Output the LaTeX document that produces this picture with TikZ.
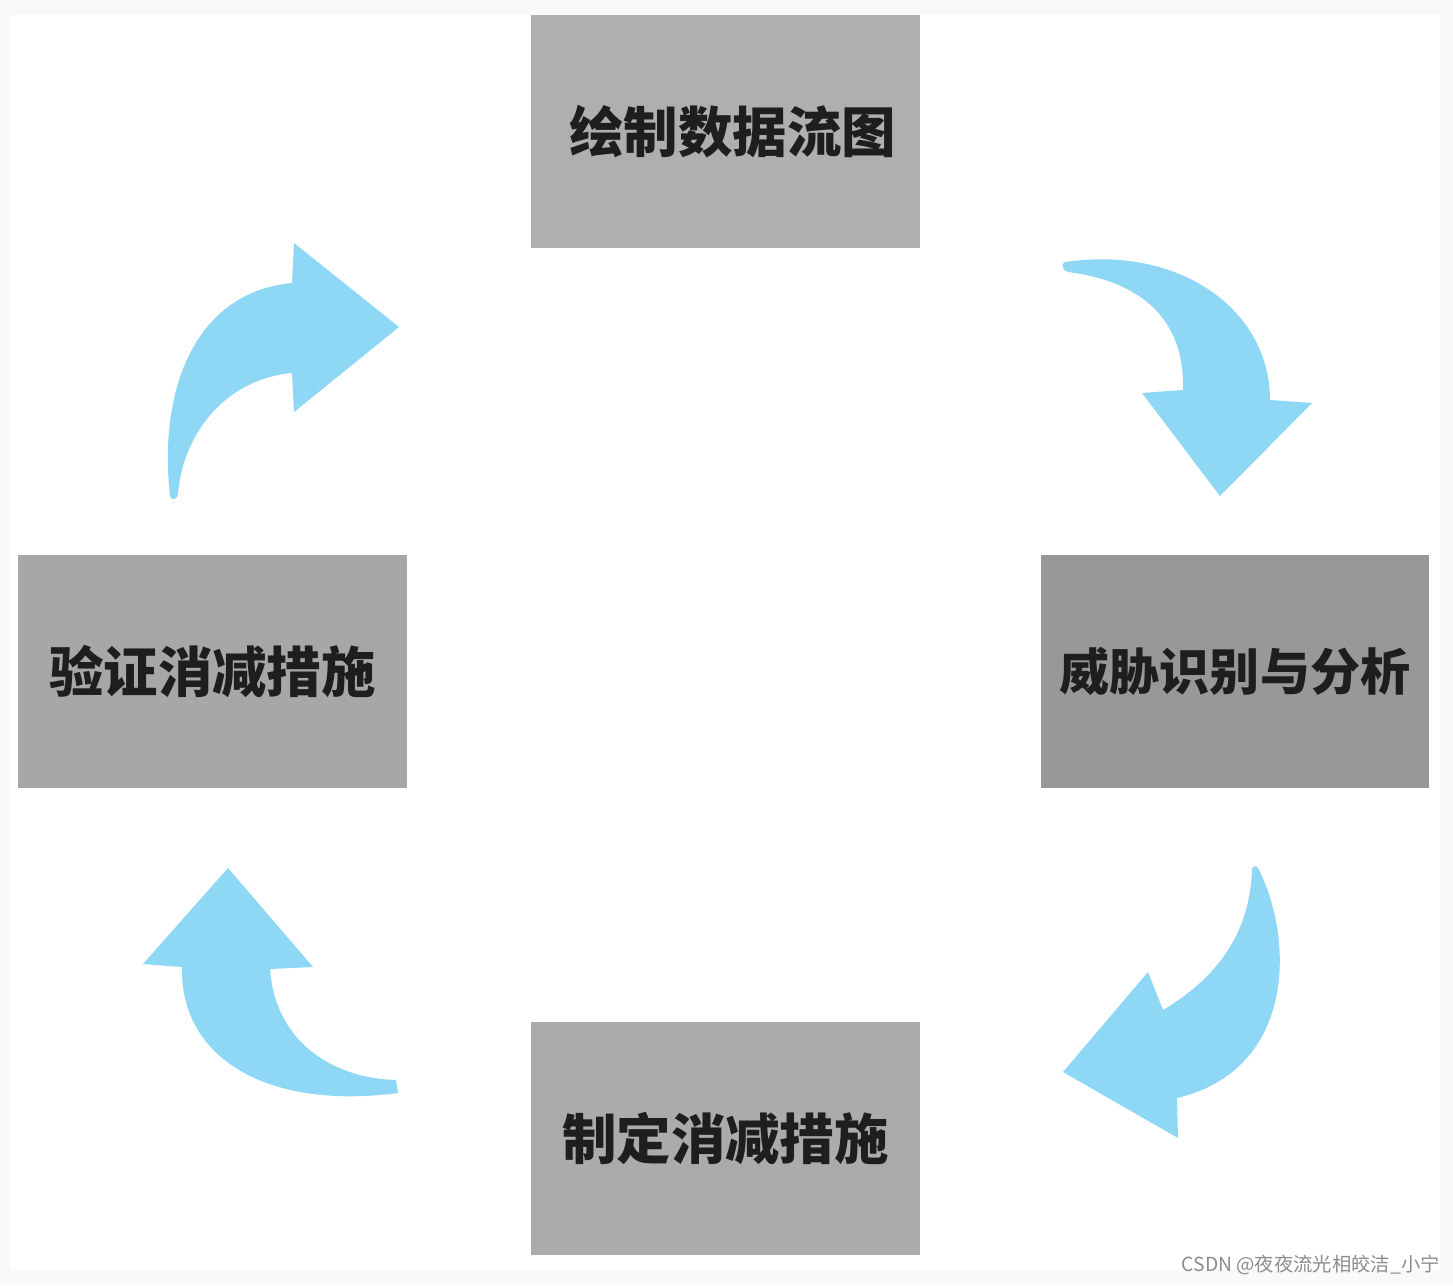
\documentclass[tikz,border=0pt]{standalone}
\usepackage{fontspec}
\newfontfamily\cjk{Noto Sans CJK SC}
\definecolor{arrowblue}{RGB}{142,216,245}
\definecolor{outerbg}{RGB}{248,249,251}
\definecolor{boxtop}{RGB}{176,175,175}
\definecolor{boxright}{RGB}{153,152,152}
\definecolor{boxleft}{RGB}{168,167,167}
\definecolor{boxbottom}{RGB}{172,171,171}
\definecolor{txt}{RGB}{30,30,30}
\definecolor{wm}{RGB}{140,140,140}
\tikzset{
  stagebox/.style={rectangle, minimum width=7.78cm, minimum height=4.66cm, inner sep=0pt,
    font=\cjk\bfseries\fontsize{31}{36}\selectfont, text=txt},
  curvedarrow/.style={fill=arrowblue, draw=none}
}
\begin{document}
\begin{tikzpicture}[x=0.02cm,y=-0.02cm]
\useasboundingbox (0,0) rectangle (1453,1285);
\fill[outerbg] (0,0) rectangle (1453,1285);
\fill[white] (10,15) rectangle (1440,1270);

\node[stagebox, fill=boxtop] (draw) at (725.5,131.5) {\hspace{8pt}绘制数据流图};
\node[stagebox, fill=boxright, font=\cjk\bfseries\fontsize{28.5}{34}\selectfont] (threat) at (1235,671.5) {威胁识别与分析};
\node[stagebox, fill=boxleft] (verify) at (212.5,671.5) {验证消减措施};
\node[stagebox, fill=boxbottom] (plan) at (725.5,1138.5) {制定消减措施};

% arrow: verify -> draw (top-left)
\path[curvedarrow] (170,496) .. controls (158,390) and (195,292) .. (292,283)
  -- (294,243) -- (399,327) -- (294,412) -- (292,373)
  .. controls (220,380) and (182,440) .. (178,494)
  .. controls (177,500) and (171,501) .. (170,496) -- cycle;

% arrow: draw -> threat (top-right)
\path[curvedarrow] (1065,262) .. controls (1180,245) and (1270,310) .. (1270,400)
  -- (1312,403) -- (1220,496) -- (1142,393) -- (1183,390)
  .. controls (1185,310) and (1130,280) .. (1068,272)
  .. controls (1062,271) and (1061,263) .. (1065,262) -- cycle;

% arrow: threat -> plan (bottom-right)
\path[curvedarrow] (1258,868) .. controls (1295,940) and (1295,1070) .. (1177,1098)
  -- (1178,1138) -- (1063,1072) -- (1148,972) -- (1163,1010)
  .. controls (1230,970) and (1250,920) .. (1252,870)
  .. controls (1252,866) and (1256,865) .. (1258,868) -- cycle;

% arrow: plan -> verify (bottom-left)
\path[curvedarrow] (228,868) -- (313,967) -- (270,969)
  .. controls (275,1040) and (330,1078) .. (396,1080)
  -- (398,1093) .. controls (270,1110) and (180,1060) .. (182,967)
  -- (143,964) -- cycle;

\node[anchor=east, inner sep=0pt, text=wm, font=\cjk\fontsize{11}{13}\selectfont] (mark) at (1440,1265) {CSDN @夜夜流光相皎洁\_小宁};
\end{tikzpicture}
\end{document}
